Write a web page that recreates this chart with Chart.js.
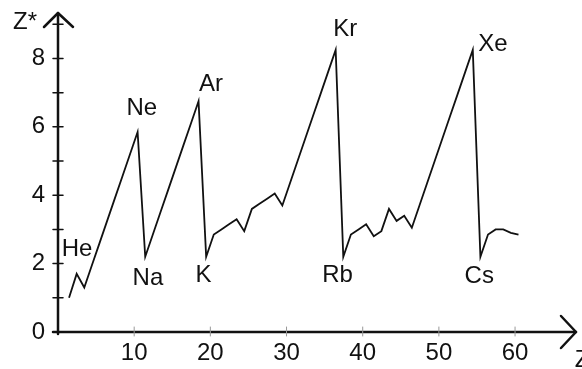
<!DOCTYPE html>
<html>
<head>
<meta charset="utf-8">
<script src="https://cdn.jsdelivr.net/npm/chart.js@4/dist/chart.umd.min.js"></script>
<style>
   html, body { margin: 0; padding: 0; background: #fff; }
   #wrap { width: 582px; height: 369px; position: relative; }
</style>
</head>
<body>
<div id="wrap"><canvas id="myChart"></canvas></div>
<script>
// atomic number and Slater effective charge
const atomicNumbers = [
   1, 2, 3, 4, 5, 6, 7, 8, 9, 10,
   11, 12, 13, 14, 15, 16, 17, 18, 19, 20,
   21, 22, 23, 24, 25, 26, 27, 28, 29, 30,
   31, 32, 33, 34, 35, 36, 37, 38, 39, 40,
   41, 42, 43, 44, 45, 46, 47, 48, 49, 50,
   51, 52, 53, 54, 55, 56, 57, 58, 59, 60
];
const effectiveCharge = [
   1.0, 1.7, 1.3, 1.95, 2.6, 3.25, 3.9, 4.55, 5.2, 5.85,
   2.2, 2.85, 3.5, 4.15, 4.8, 5.45, 6.1, 6.75, 2.2, 2.85,
   3.0, 3.15, 3.3, 2.95, 3.6, 3.75, 3.9, 4.05, 3.7, 4.35,
   5.0, 5.65, 6.3, 6.95, 7.6, 8.25, 2.2, 2.85, 3.0, 3.15,
   2.8, 2.95, 3.6, 3.25, 3.4, 3.05, 3.7, 4.35, 5.0, 5.65,
   6.3, 6.95, 7.6, 8.25, 2.2, 2.85, 3.0, 3.0, 2.9, 2.85
];

// element labels, anchored in axis units (Z, Z*)
const elementNames = ['He', 'Ne', 'Na', 'Ar', 'K', 'Kr', 'Rb', 'Xe', 'Cs'];
const elementLabelZ = [2.5, 11.0, 11.8, 20.1, 19.1, 37.7, 36.7, 57.1, 55.3];
const elementLabelZStar = [2.43, 6.55, 1.58, 7.25, 1.67, 8.86, 1.65, 8.42, 1.62];

const xTickValues = [10, 20, 30, 40, 50, 60];
const yTickLabels = [0, 2, 4, 6, 8];

const FONT = "'Liberation Sans', Arial, sans-serif";
const INK = '#111';

const getPoints = () => {
   const arr = [];
   for (let i = 0; i < atomicNumbers.length; ++i) arr.push({ x: atomicNumbers[i], y: effectiveCharge[i] });
   return arr;
}

const arrowPlugin = {
   id: 'arrows',
   afterDraw: (chart) => {
      const c = chart.ctx;
      const xs = chart.scales.x;
      const ys = chart.scales.y;
      const x0 = ys.right;
      const y0 = xs.top;
      c.save();
      c.strokeStyle = INK;
      c.lineCap = 'round';
      c.lineJoin = 'round';

      // y axis arrow head
      c.lineWidth = 2.5;
      c.beginPath();
      c.moveTo(x0, y0 + 2);
      c.lineTo(x0, ys.top - 1);
      c.stroke();
      c.beginPath();
      c.moveTo(x0 - 14, ys.top + 13);
      c.lineTo(x0, ys.top - 1);
      c.lineTo(x0 + 15, ys.top + 13);
      c.stroke();

      // x axis arrow head
      c.beginPath();
      c.moveTo(x0 - 5, y0);
      c.lineTo(xs.right, y0);
      c.stroke();
      c.beginPath();
      c.moveTo(xs.right - 15, y0 - 16);
      c.lineTo(xs.right, y0);
      c.lineTo(xs.right - 15, y0 + 16);
      c.stroke();

      // y tick marks crossing the axis
      c.lineWidth = 1.5;
      for (let t of ys.ticks) {
         const py = ys.getPixelForValue(t.value);
         c.beginPath();
         c.moveTo(x0 - 5, py);
         c.lineTo(x0 + 5, py);
         c.stroke();
      }
      // x tick marks, small and faint
      c.strokeStyle = '#999';
      c.lineWidth = 1;
      for (let v of xTickValues) {
         const px = xs.getPixelForValue(v);
         c.beginPath();
         c.moveTo(px, y0 - 5);
         c.lineTo(px, y0 + 4);
         c.stroke();
      }

      // element labels and axis titles
      c.fillStyle = INK;
      c.font = `24px ${FONT}`;
      c.textAlign = 'center';
      c.textBaseline = 'middle';
      for (let i = 0; i < elementNames.length; ++i) {
         c.fillText(elementNames[i], xs.getPixelForValue(elementLabelZ[i]), ys.getPixelForValue(elementLabelZStar[i]));
      }
      c.fillText('Z*', 25, 22);
      c.fillText('Z', 582, 360);
      c.restore();
   }
};

const config = {
   type: 'line',
   data: {
      datasets: [{
         data: getPoints(),
         xAxisID: 'xd',
         borderColor: INK,
         borderWidth: 1.8,
         pointRadius: 0,
         tension: 0,
         fill: false,
      }]
   },
   options: {
      animation: false,
      responsive: true,
      maintainAspectRatio: false,
      devicePixelRatio: 1,
      layout: { padding: { top: 14, right: 6, left: 0, bottom: 0 } },
      plugins: {
         legend: { display: false },
         tooltip: { enabled: false },
      },
      scales: {
         x: {
            type: 'linear',
            min: 0,
            max: 68,
            afterFit: (scale) => { scale.height = 37; scale.paddingLeft = 0; scale.paddingRight = 0; },
            grid: { display: false, drawTicks: false },
            border: { display: false },
            ticks: {
               stepSize: 10,
               includeBounds: false,
               padding: 7,
               color: INK,
               font: { family: FONT, size: 24 },
               maxRotation: 0,
               callback: (v) => (xTickValues.includes(v) ? String(v) : ''),
            },
         },
         // data drawn against this hidden axis, offset like the printed figure
         xd: {
            type: 'linear',
            display: false,
            min: -0.45,
            max: 67.55,
         },
         y: {
            min: 0,
            max: 9.3,
            afterFit: (scale) => { scale.width = 58; scale.paddingTop = 0; scale.paddingBottom = 0; },
            grid: { display: false, drawTicks: false },
            border: { display: false },
            ticks: {
               stepSize: 1,
               includeBounds: false,
               padding: 13,
               color: INK,
               font: { family: FONT, size: 24 },
               callback: (v) => (yTickLabels.includes(v) ? String(v) : ''),
            },
         }
      }
   },
   plugins: [arrowPlugin]
};

var ctx = document.getElementById('myChart').getContext('2d');
var myChart = new Chart(ctx, config);
</script>
</body>
</html>
